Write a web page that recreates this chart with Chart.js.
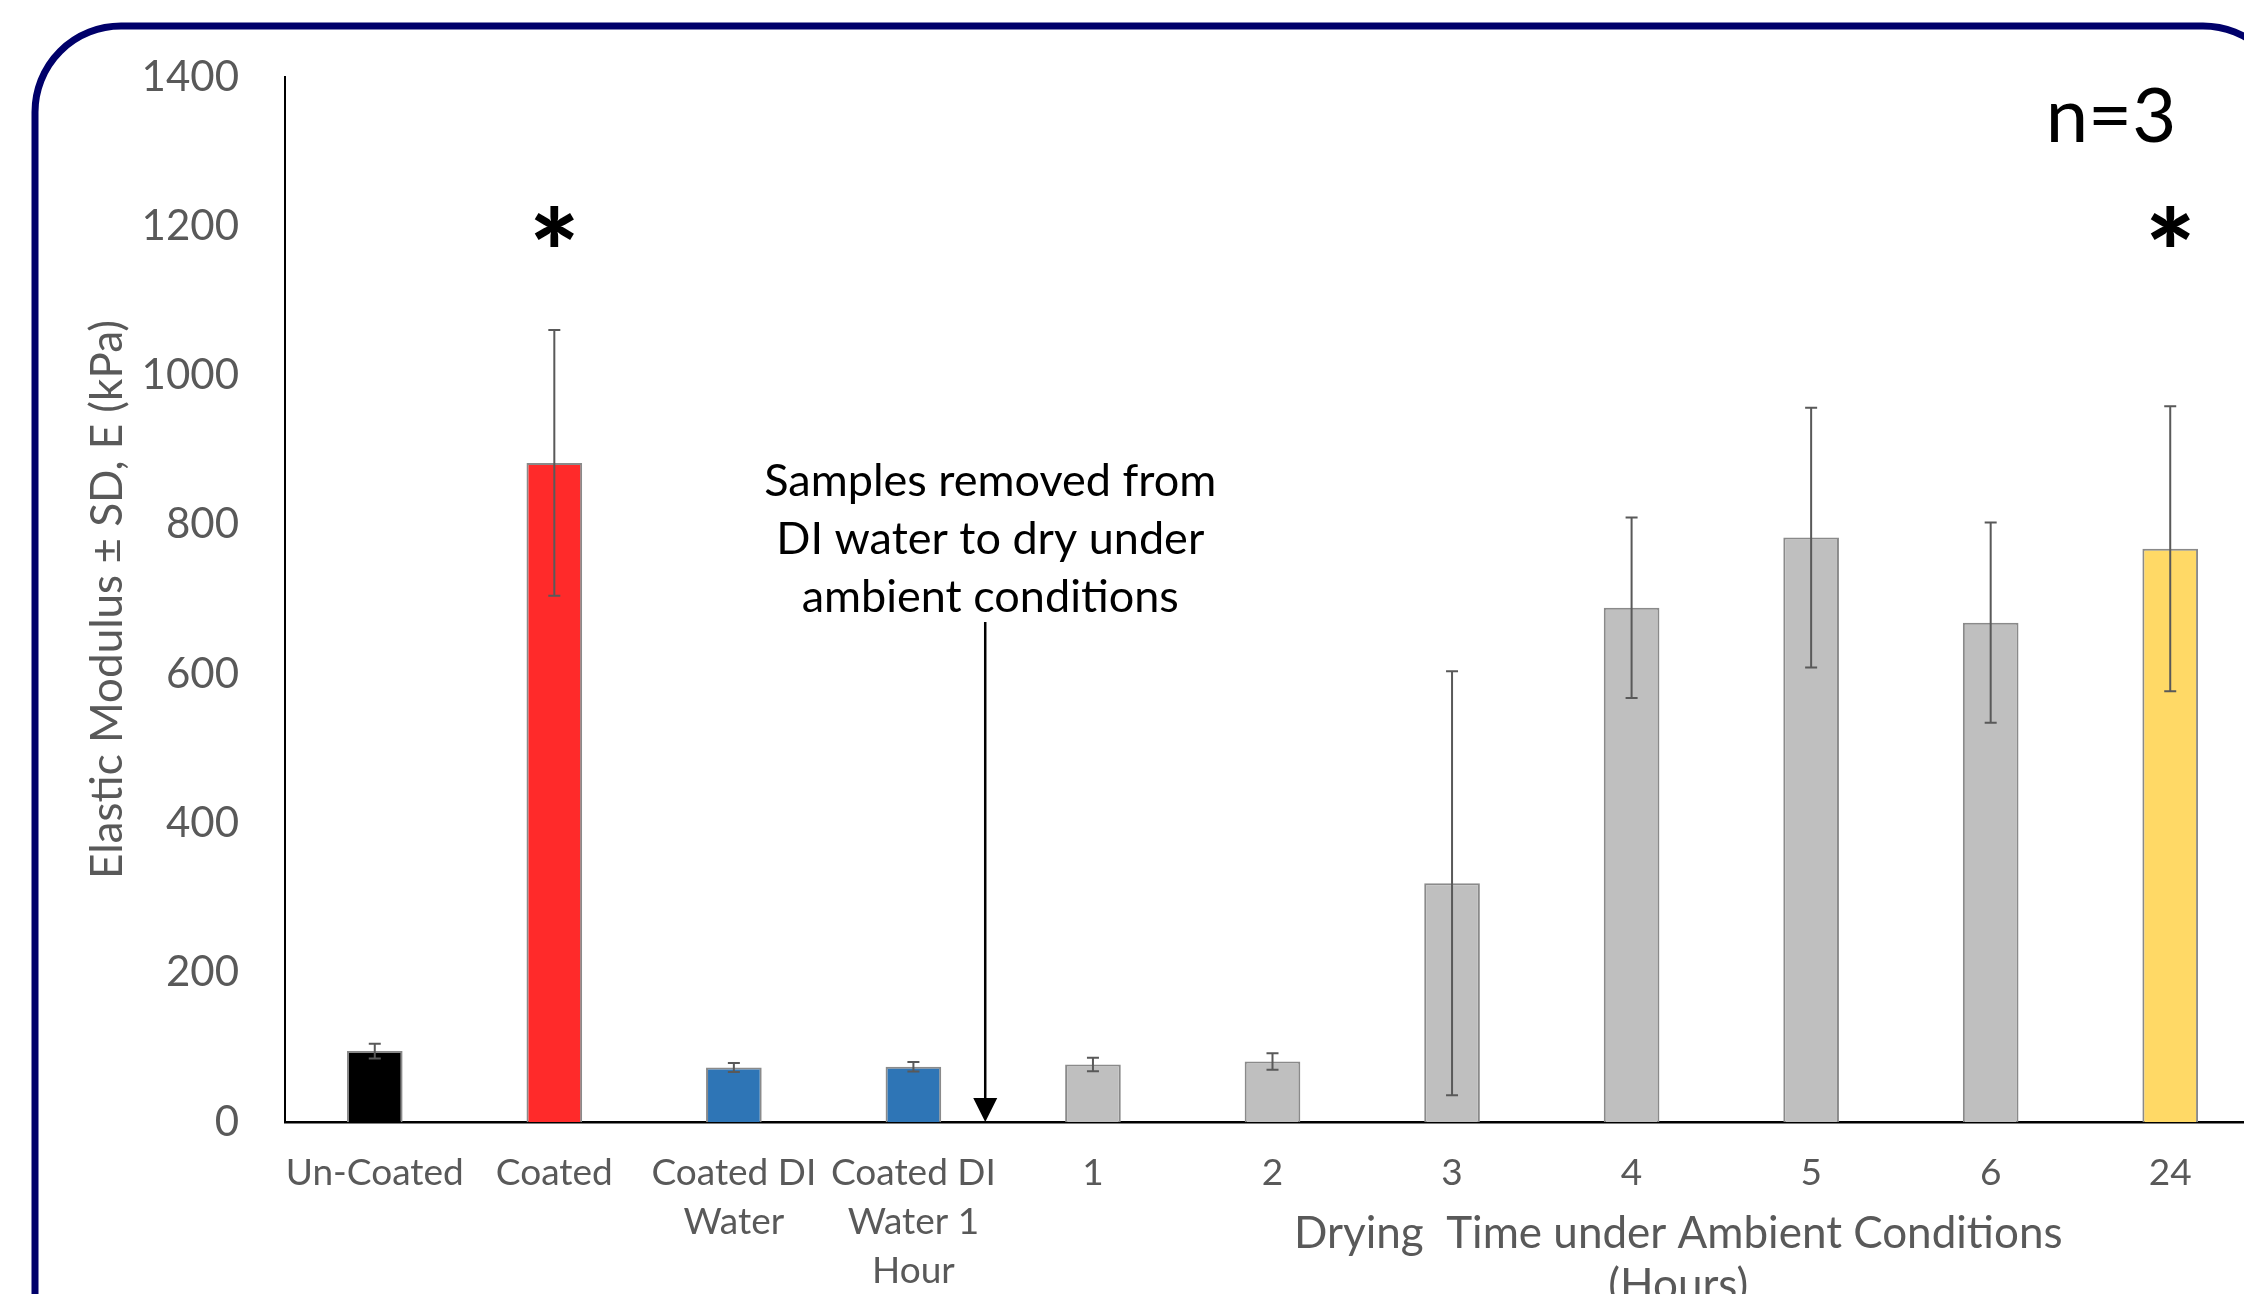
<!DOCTYPE html>
<html><head><meta charset="utf-8">
<script src="https://cdn.jsdelivr.net/npm/chart.js@4.4.1/dist/chart.umd.min.js"></script>
<style>html,body{margin:0;padding:0;overflow:hidden;background:#fff;width:2244px;height:1294px}canvas{display:block}</style>
</head><body>
<canvas id="c" width="2300" height="1400"></canvas>
<script>
// ---- data ----
const categories = ['Un-Coated', 'Coated', ['Coated DI', 'Water'], ['Coated DI', 'Water 1', 'Hour'], '1', '2', '3', '4', '5', '6', '24'];
const means = [95, 883, 73, 74, 77, 81, 320, 689, 783, 669, 768];
const sds = [10, 178, 6, 6.5, 9, 11, 284, 121, 174, 134, 191];
const significant = [1, 10];
const yTicks = [0, 200, 400, 600, 800, 1000, 1200, 1400];
const barColors = ['#000000', '#FF2A2A', '#2E75B6', '#2E75B6', '#BFBFBF', '#BFBFBF', '#BFBFBF', '#BFBFBF', '#BFBFBF', '#BFBFBF', '#FFD966'];
const yTitle = 'Elastic Modulus \u00B1 SD, E (kPa)';
const xTitle = ['Drying  Time under Ambient Conditions', '(Hours)'];
const noteLines = ['Samples removed from', 'DI water to dry under', 'ambient conditions'];
const nLabel = 'n=3';

const FONT = 'Lato';
const GREY = '#595959';

const frame = {
  id: 'frame',
  beforeDraw(chart) {
    const ctx = chart.ctx;
    ctx.save();
    ctx.fillStyle = '#fff';
    ctx.fillRect(0, 0, chart.width, chart.height);
    ctx.strokeStyle = '#00006A';
    ctx.lineWidth = 7;
    ctx.beginPath();
    ctx.roundRect(35, 26, 2289 - 35, 1380 - 26, 86);
    ctx.stroke();
    ctx.restore();
  }
};

const extras = {
  id: 'extras',
  afterDatasetsDraw(chart) {
    const ctx = chart.ctx;
    const xs = chart.scales.x, ys = chart.scales.y;
    const meta = chart.getDatasetMeta(0);
    ctx.save();
    // error bars
    ctx.strokeStyle = GREY;
    ctx.lineWidth = 2;
    meta.data.forEach((bar, i) => {
      const x = bar.x;
      const yT = ys.getPixelForValue(means[i] + sds[i]);
      const yB = ys.getPixelForValue(means[i] - sds[i]);
      ctx.beginPath();
      ctx.moveTo(x, yT); ctx.lineTo(x, yB);
      ctx.moveTo(x - 6, yT); ctx.lineTo(x + 6, yT);
      ctx.moveTo(x - 6, yB); ctx.lineTo(x + 6, yB);
      ctx.stroke();
    });
    // asterisks
    ctx.fillStyle = '#000';
    ctx.font = '900 118px ' + FONT;
    ctx.textAlign = 'center';
    ctx.textBaseline = 'middle';
    significant.forEach(i => {
      ctx.fillText('*', xs.getPixelForValue(i), ys.getPixelForValue(1158));
    });
    // n=3
    ctx.font = '76px ' + FONT;
    ctx.textAlign = 'right';
    ctx.textBaseline = 'alphabetic';
    ctx.fillText(nLabel, xs.getPixelForValue(10) + 6, ys.getPixelForValue(1313));
    // note text
    const ax = xs.getPixelForValue(3.4);
    ctx.font = '45px ' + FONT;
    ctx.textAlign = 'center';
    ctx.textBaseline = 'middle';
    noteLines.forEach((t, k) => {
      ctx.fillText(t, ax + 5, ys.getPixelForValue(858) + k * 58);
    });
    // arrow
    const yTop = ys.getPixelForValue(670);
    const yTip = ys.getPixelForValue(0);
    ctx.strokeStyle = '#000';
    ctx.lineWidth = 2.5;
    ctx.beginPath();
    ctx.moveTo(ax, yTop); ctx.lineTo(ax, yTip - 20);
    ctx.stroke();
    ctx.beginPath();
    ctx.moveTo(ax - 12, yTip - 24);
    ctx.lineTo(ax + 12, yTip - 24);
    ctx.lineTo(ax, yTip);
    ctx.closePath();
    ctx.fill();
    // x-axis title
    ctx.fillStyle = GREY;
    ctx.font = '44px ' + FONT;
    ctx.textAlign = 'center';
    ctx.textBaseline = 'middle';
    const tx = xs.getPixelForValue(7.26);
    xTitle.forEach((t, k) => {
      ctx.fillText(t, tx, ys.bottom + 112 + k * 52);
    });
    ctx.restore();
  }
};

new Chart(document.getElementById('c'), {
  type: 'bar',
  data: {
    labels: categories,
    datasets: [{
      data: means,
      backgroundColor: barColors,
      borderColor: '#8A8A8A',
      borderWidth: 2,
      barPercentage: 0.31,
      categoryPercentage: 1.0
    }]
  },
  options: {
    responsive: false,
    animation: false,
    devicePixelRatio: 1,
    layout: { padding: { left: 0, top: 77, right: 40, bottom: 0 } },
    plugins: { legend: { display: false }, tooltip: { enabled: false } },
    scales: {
      x: {
        grid: { display: false, drawTicks: false },
        border: { display: true, color: '#000', width: 2.5 },
        ticks: { color: GREY, font: { family: FONT, size: 37, lineHeight: 1.33 }, padding: 26, autoSkip: false, maxRotation: 0, minRotation: 0 },
        afterFit(s) { s.height = 1400 - 1122; }
      },
      y: {
        min: 0, max: 1400,
        grid: { display: false, drawTicks: false },
        border: { display: true, color: '#000', width: 2 },
        afterBuildTicks(s) { s.ticks = yTicks.map(v => ({ value: v })); },
        ticks: { color: GREY, font: { family: FONT, size: 42 }, padding: 46, callback: v => String(v) },
        title: { display: true, text: yTitle, color: GREY, font: { family: FONT, size: 44, lineHeight: 1.2 }, padding: { top: 81, bottom: 0 } },
        afterFit(s) { s.width = 285; }
      }
    }
  },
  plugins: [frame, extras]
});
</script>
</body></html>
